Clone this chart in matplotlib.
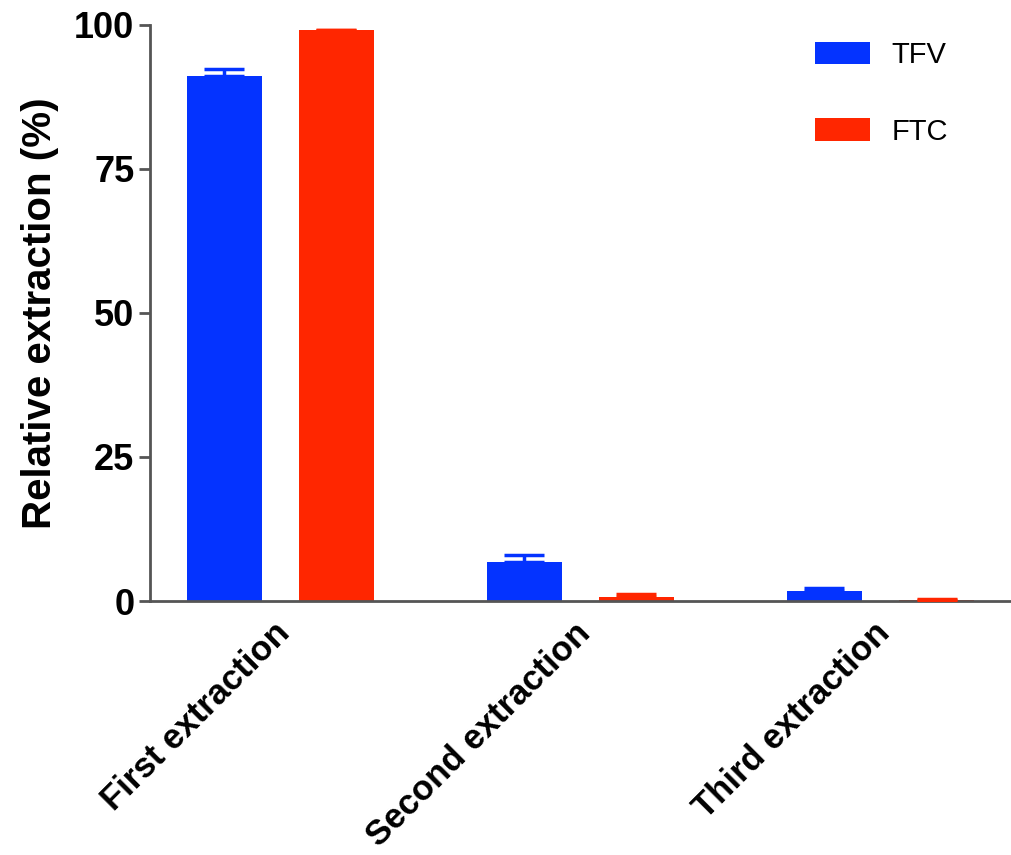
import matplotlib
matplotlib.use("Agg")
import matplotlib.pyplot as plt
import matplotlib.transforms as mtransforms
import numpy as np
from matplotlib.patches import Patch

plt.rcParams['font.family'] = ['Liberation Sans', 'DejaVu Sans']

categories = ["First extraction", "Second extraction", "Third extraction"]
series_names = ["TFV", "FTC"]
tfv_mean = [91.1, 6.8, 1.7]
tfv_err = [1.3, 1.2, 0.5]
ftc_mean = [99.1, 0.7, 0.15]
ftc_err = [0.0, 0.5, 0.25]
y_ticks = [0, 25, 50, 75, 100]

blue = "#0433FF"
red = "#FF2600"
axis_gray = "#555555"

fig = plt.figure(figsize=(10.11, 8.55), dpi=100)
ax = fig.add_axes([0.148, 0.297, 0.852, 0.674])

x = np.arange(len(categories))
width = 0.25
offset = 0.187

ax.bar(x - offset, tfv_mean, width, color=blue, edgecolor="none", zorder=2)
ax.bar(x + offset, ftc_mean, width, color=red, edgecolor="none", zorder=2)
ax.errorbar(x - offset, tfv_mean, yerr=[np.zeros(3), tfv_err], fmt="none",
            ecolor=blue, elinewidth=2.5, capsize=14.5, capthick=2.5, zorder=3)
ax.errorbar(x + offset, ftc_mean, yerr=[np.zeros(3), ftc_err], fmt="none",
            ecolor=red, elinewidth=2.5, capsize=14.5, capthick=2.5, zorder=3)

ax.set_xlim(-0.435, 2.435)
ax.set_ylim(0, 100)
ax.set_yticks(y_ticks)
ax.set_yticklabels([str(v) for v in y_ticks], fontsize=26, fontweight="bold")
ax.set_xticks(x)
ax.set_xticklabels(categories, rotation=45, ha="right", rotation_mode="anchor",
                   fontsize=25, fontweight="bold")
ax.tick_params(axis="x", length=0, pad=11)
ax.tick_params(axis="y", length=8, width=2, color=axis_gray, pad=3)
shift = mtransforms.ScaledTranslation(-7 / 100, 0, fig.dpi_scale_trans)
for lbl in ax.get_xticklabels():
    lbl.set_transform(lbl.get_transform() + shift)
ax.set_ylabel("Relative extraction (%)", fontsize=29, fontweight="bold", labelpad=11)

for s in ["top", "right"]:
    ax.spines[s].set_visible(False)
for s in ["left", "bottom"]:
    ax.spines[s].set_color(axis_gray)
    ax.spines[s].set_linewidth(2)

handles = [Patch(facecolor=blue, edgecolor="none"), Patch(facecolor=red, edgecolor="none")]
fig.legend(handles, series_names, loc="upper left", bbox_to_anchor=(0.806, 0.952),
           frameon=False, fontsize=21, handlelength=1.88, handleheight=0.82,
           handletextpad=0.75, labelspacing=1.67, borderpad=0, borderaxespad=0)

fig.savefig("out.png", dpi=100, facecolor="white")
